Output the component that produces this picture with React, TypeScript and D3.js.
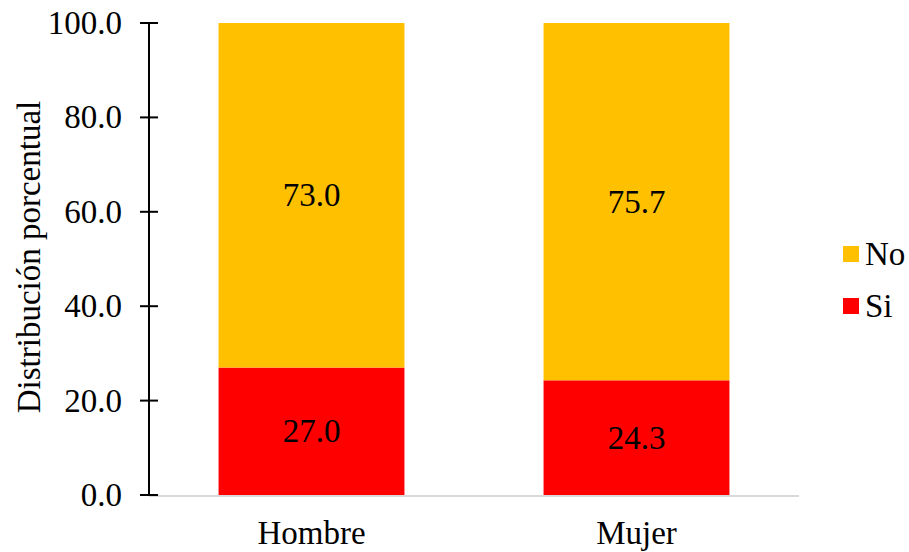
import React from "react";
import * as d3 from "d3";

const categories = ["Hombre", "Mujer"];
const siValues = [27.0, 24.3];
const noValues = [73.0, 75.7];
const yTicks = [0, 20, 40, 60, 80, 100];
const seriesNames = ["No", "Si"];
const seriesColors = ["#FFC000", "#FF0000"];

const W = 909;
const H = 552;
const FONT = "Liberation Serif, Times New Roman, serif";
const FS = 33;

export default function App() {
  const left = 149;
  const right = 799;
  const top = 23;
  const bottom = 495;

  const x = d3.scaleBand<string>().domain(categories).range([left, right]).paddingInner(0.428).paddingOuter(0.214);
  const y = d3.scaleLinear().domain([0, 100]).range([bottom, top]);

  const rows = categories.map((c, i) => ({ cat: c, Si: siValues[i], No: noValues[i] }));
  const stack = d3.stack<any>().keys(["Si", "No"])(rows);
  const colorOf: Record<string, string> = { No: seriesColors[0], Si: seriesColors[1] };

  return (
    <svg width={W} height={H} style={{ position: "absolute", left: 0, top: 0, fontFamily: FONT }}>
      <rect x={0} y={0} width={W} height={H} fill="#fff" />
      {stack.map((layer) =>
        layer.map((d, i) => {
          const x0 = x(categories[i])!;
          const y0 = y(d[1]);
          const y1 = y(d[0]);
          return (
            <g key={layer.key + i}>
              <rect x={x0} y={y0} width={x.bandwidth()} height={y1 - y0} fill={colorOf[layer.key]} />
              <text
                x={x0 + x.bandwidth() / 2}
                y={(y0 + y1) / 2}
                textAnchor="middle"
                dominantBaseline="central"
                fontSize={FS}
                fill="#000"
              >
                {(d[1] - d[0]).toFixed(1)}
              </text>
            </g>
          );
        })
      )}
      <line x1={left} x2={right} y1={bottom + 1} y2={bottom + 1} stroke="#d9d9d9" strokeWidth={2} />
      <line x1={left} x2={left} y1={top} y2={bottom} stroke="#000" strokeWidth={2} />
      {yTicks.map((t) => (
        <g key={t}>
          <line x1={left - 9} x2={left + 9} y1={y(t)} y2={y(t)} stroke="#000" strokeWidth={2} />
          <text x={122} y={y(t)} textAnchor="end" dominantBaseline="central" fontSize={FS} fill="#000">
            {t.toFixed(1)}
          </text>
        </g>
      ))}
      {categories.map((c) => (
        <text key={c} x={x(c)! + x.bandwidth() / 2} y={533} textAnchor="middle" dominantBaseline="central" fontSize={FS} fill="#000">
          {c}
        </text>
      ))}
      <text
        transform={`translate(29, ${(top + bottom) / 2 - 2}) rotate(-90)`}
        textAnchor="middle"
        dominantBaseline="central"
        fontSize={FS}
        fill="#000"
      >
        Distribución porcentual
      </text>
      {seriesNames.map((s, i) => (
        <g key={s}>
          <rect x={843} y={246 + i * 52} width={16} height={16} fill={seriesColors[i]} />
          <text x={865} y={254 + i * 52} dominantBaseline="central" fontSize={FS} fill="#000">
            {s}
          </text>
        </g>
      ))}
    </svg>
  );
}
